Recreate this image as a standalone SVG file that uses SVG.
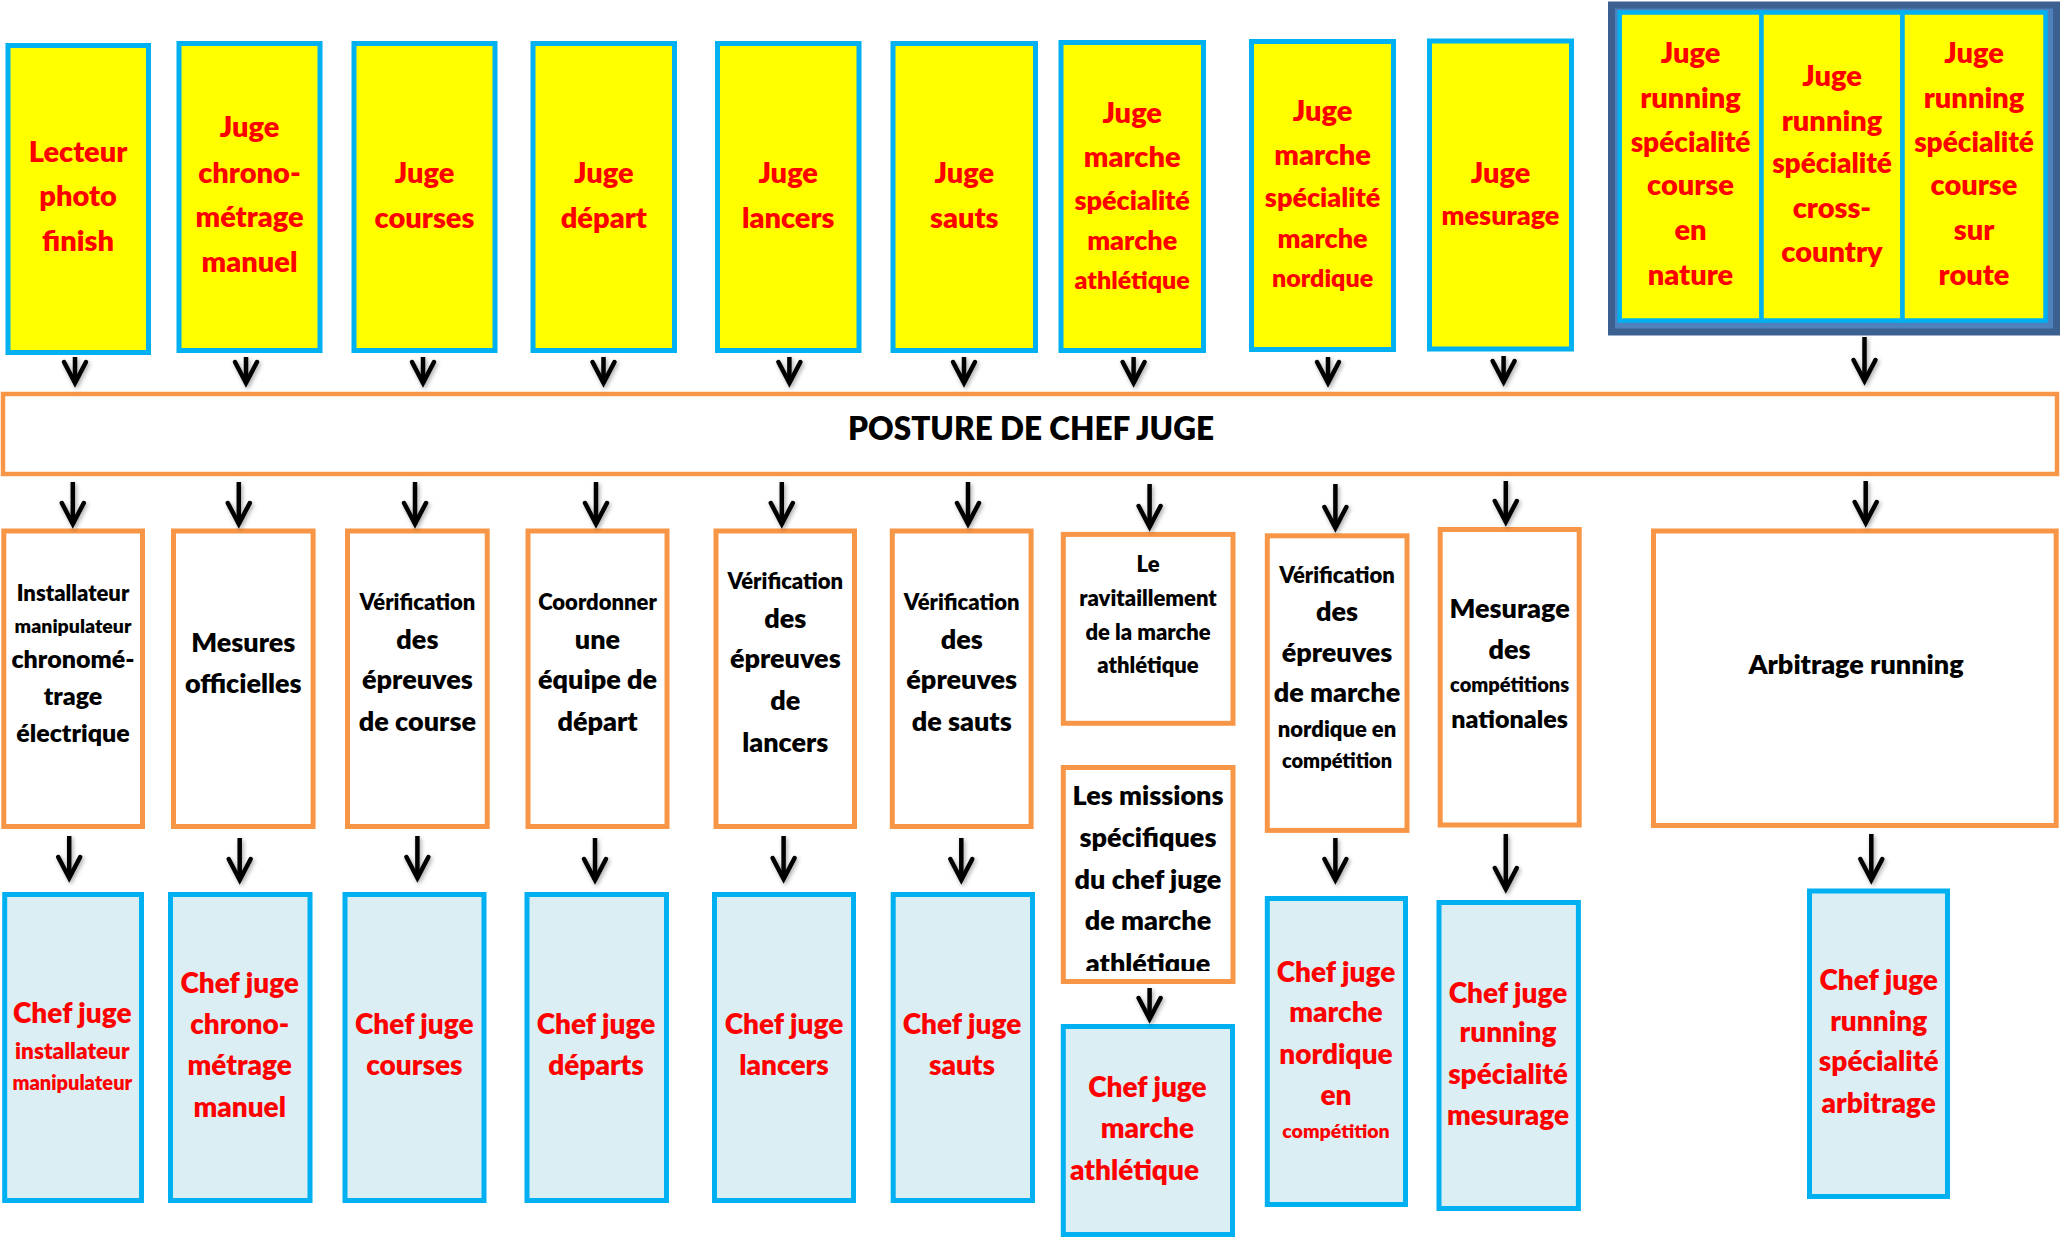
<svg xmlns="http://www.w3.org/2000/svg" width="2060" height="1237" viewBox="0 0 2060 1237">
<style>
text{font-family:Lato,"Open Sans","Liberation Sans",sans-serif;font-weight:800;text-anchor:middle}
.y{fill:#FFFF00;stroke:#00B0F0;stroke-width:5}
.o{fill:#FFFFFF;stroke:#F79646;stroke-width:5}
.b{fill:#DAEEF3;stroke:#00B0F0;stroke-width:5}
.r{fill:#FF0000}
.k{fill:#000000}
.s19{font-size:19.5px}.s20{font-size:20px}.s22{font-size:22px}.s23{font-size:22.5px}.s25{font-size:25px}
.s27{font-size:27px}.s28{font-size:28px}.s29{font-size:29px}.s30{font-size:31.5px}
.ar{fill:none;stroke:#000;stroke-width:4.5;marker-end:url(#ah)}
</style>
<defs>
<marker id="ah" markerUnits="userSpaceOnUse" viewBox="-30 -16 36 32" refX="0" refY="0" markerWidth="36" markerHeight="32" orient="auto" overflow="visible">
<path d="M-21,-11 L0,0 L-21,11" fill="none" stroke="#000" stroke-width="4.5" stroke-linejoin="miter" stroke-linecap="round"/>
</marker>
<filter id="sh" x="-50%" y="-50%" width="200%" height="200%">
<feDropShadow dx="1.5" dy="2" stdDeviation="2" flood-color="#000" flood-opacity="0.35"/>
</filter>
<clipPath id="clipM"><rect x="1060" y="760" width="180" height="211"/></clipPath>
</defs>

<!-- TOP ROW -->
<g id="top1"><rect class="y" x="8" y="45.5" width="140.5" height="307"/>
<text class="r s29" x="78" y="161.7">Lecteur</text><text class="r s29" x="78" y="206">photo</text><text class="r s29" x="78" y="251">finish</text></g>
<g id="top2"><rect class="y" x="179" y="43.5" width="141" height="307"/>
<text class="r s29" x="249.5" y="137">Juge</text><text class="r s29" x="249.5" y="182.7">chrono-</text><text class="r s29" x="249.5" y="226.7">métrage</text><text class="r s29" x="249.5" y="272">manuel</text></g>
<g id="top3"><rect class="y" x="354" y="43.5" width="141" height="307"/>
<text class="r s29" x="424.5" y="183">Juge</text><text class="r s29" x="424.5" y="227.7">courses</text></g>
<g id="top4"><rect class="y" x="533" y="43.5" width="141.5" height="307"/>
<text class="r s29" x="603.8" y="183">Juge</text><text class="r s29" x="603.8" y="227.7">départ</text></g>
<g id="top5"><rect class="y" x="717.5" y="43.5" width="141.5" height="307"/>
<text class="r s29" x="788.2" y="183">Juge</text><text class="r s29" x="788.2" y="227.7">lancers</text></g>
<g id="top6"><rect class="y" x="893" y="43.5" width="142.5" height="307"/>
<text class="r s29" x="964.3" y="183">Juge</text><text class="r s29" x="964.3" y="227.7">sauts</text></g>
<g id="top7"><rect class="y" x="1061" y="42.5" width="142.5" height="308"/>
<text class="r s29" x="1132.2" y="123.3">Juge</text><text class="r s29" x="1132.2" y="167.3">marche</text><text class="r s27" x="1132.2" y="210">spécialité</text><text class="r s27" x="1132.2" y="250">marche</text><text class="r s25" x="1132.2" y="289.3">athlétique</text></g>
<g id="top8"><rect class="y" x="1251.5" y="41.5" width="142" height="308"/>
<text class="r s29" x="1322.6" y="120.7">Juge</text><text class="r s29" x="1322.6" y="165">marche</text><text class="r s27" x="1322.6" y="206.7">spécialité</text><text class="r s27" x="1322.6" y="248.3">marche</text><text class="r s25" x="1322.6" y="286.7">nordique</text></g>
<g id="top9"><rect class="y" x="1429.5" y="41" width="142" height="308"/>
<text class="r s29" x="1500.5" y="182.7">Juge</text><text class="r s27" x="1500.5" y="225">mesurage</text></g>
<g id="running-group">
<rect x="1611.5" y="5" width="445" height="327" fill="#4F81BD" stroke="#3C6090" stroke-width="7"/>
<g id="run1"><rect class="y" x="1619.7" y="12.5" width="141.8" height="308" style="stroke-width:4.5"/>
<text class="r s29" x="1690.5" y="63.3">Juge</text><text class="r s29" x="1690.5" y="108.3">running</text><text class="r s28" x="1690.5" y="151.7">spécialité</text><text class="r s29" x="1690.5" y="195">course</text><text class="r s29" x="1690.5" y="240">en</text><text class="r s29" x="1690.5" y="285">nature</text></g>
<g id="run2"><rect class="y" x="1761.5" y="12.5" width="141" height="308" style="stroke-width:4.5"/>
<text class="r s29" x="1832" y="86">Juge</text><text class="r s29" x="1832" y="130.7">running</text><text class="r s28" x="1832" y="173.3">spécialité</text><text class="r s29" x="1832" y="218.3">cross-</text><text class="r s29" x="1832" y="261.7">country</text></g>
<g id="run3"><rect class="y" x="1902.5" y="12.5" width="143" height="308" style="stroke-width:4.5"/>
<text class="r s29" x="1974" y="63.3">Juge</text><text class="r s29" x="1974" y="108.3">running</text><text class="r s28" x="1974" y="151.7">spécialité</text><text class="r s29" x="1974" y="195">course</text><text class="r s29" x="1974" y="240">sur</text><text class="r s29" x="1974" y="285">route</text></g>
</g>

<!-- BAR -->
<g id="posture"><rect class="o" x="3" y="394" width="2054" height="80" style="stroke-width:4.5"/>
<text class="k s30" x="1031" y="440">POSTURE DE CHEF JUGE</text></g>

<!-- MIDDLE ROW -->
<g id="mid1"><rect class="o" x="3.8" y="531" width="138.7" height="295.5"/>
<text class="k s22" x="73" y="601.2">Installateur</text><text class="k s19" x="73" y="632.7">manipulateur</text><text class="k s25" x="73" y="668">chronomé-</text><text class="k s25" x="73" y="705.4">trage</text><text class="k s25" x="73" y="741.8">électrique</text></g>
<g id="mid2"><rect class="o" x="173.5" y="531" width="139.6" height="295.5"/>
<text class="k s27" x="243.3" y="652">Mesures</text><text class="k s27" x="243.3" y="693.3">officielles</text></g>
<g id="mid3"><rect class="o" x="347.5" y="531" width="139.7" height="295.5"/>
<text class="k s22" x="417.4" y="610">Vérification</text><text class="k s27" x="417.4" y="648.7">des</text><text class="k s27" x="417.4" y="689.4">épreuves</text><text class="k s27" x="417.4" y="731">de course</text></g>
<g id="mid4"><rect class="o" x="528" y="531" width="139" height="295.5"/>
<text class="k s22" x="597.5" y="610">Coordonner</text><text class="k s27" x="597.5" y="648.7">une</text><text class="k s27" x="597.5" y="689.4">équipe de</text><text class="k s27" x="597.5" y="731">départ</text></g>
<g id="mid5"><rect class="o" x="716" y="531" width="138.5" height="295.5"/>
<text class="k s22" x="785.3" y="589">Vérification</text><text class="k s27" x="785.3" y="627.8">des</text><text class="k s27" x="785.3" y="668">épreuves</text><text class="k s27" x="785.3" y="710">de</text><text class="k s27" x="785.3" y="751.5">lancers</text></g>
<g id="mid6"><rect class="o" x="892.3" y="531" width="138.8" height="295.5"/>
<text class="k s22" x="961.7" y="610">Vérification</text><text class="k s27" x="961.7" y="648.7">des</text><text class="k s27" x="961.7" y="689.4">épreuves</text><text class="k s27" x="961.7" y="731">de sauts</text></g>
<g id="mid7a"><rect class="o" x="1063.3" y="534.4" width="169.7" height="188.9"/>
<text class="k s22" x="1148" y="572">Le</text><text class="k s22" x="1148" y="606">ravitaillement</text><text class="k s22" x="1148" y="640">de la marche</text><text class="k s22" x="1148" y="673">athlétique</text></g>
<g id="mid7b"><rect class="o" x="1063.3" y="767.5" width="169.7" height="214"/>
<g clip-path="url(#clipM)"><text class="k s27" x="1148" y="804.8">Les missions</text><text class="k s27" x="1148" y="847">spécifiques</text><text class="k s27" x="1148" y="888.6">du chef juge</text><text class="k s27" x="1148" y="929.8">de marche</text><text class="k s27" x="1148" y="973">athlétique</text></g></g>
<g id="mid8"><rect class="o" x="1267.3" y="535.8" width="139.7" height="294.6"/>
<text class="k s22" x="1337" y="583">Vérification</text><text class="k s27" x="1337" y="621">des</text><text class="k s27" x="1337" y="662">épreuves</text><text class="k s27" x="1337" y="702">de marche</text><text class="k s22" x="1337" y="737">nordique en</text><text class="k s20" x="1337" y="768">compétition</text></g>
<g id="mid9"><rect class="o" x="1440.2" y="529.5" width="139" height="295.5"/>
<text class="k s27" x="1509.6" y="618">Mesurage</text><text class="k s27" x="1509.6" y="659.4">des</text><text class="k s20" x="1509.6" y="691.8">compétitions</text><text class="k s25" x="1509.6" y="728.2">nationales</text></g>
<g id="mid10"><rect class="o" x="1653.5" y="531" width="402.7" height="294.5"/>
<text class="k s27" x="1856" y="674">Arbitrage running</text></g>

<!-- BOTTOM ROW -->
<g id="bot1"><rect class="b" x="4.7" y="894.5" width="136.8" height="306"/>
<text class="r s28" x="72.3" y="1022.9">Chef juge</text><text class="r s23" x="72.3" y="1059.3">installateur</text><text class="r s20" x="72.3" y="1089.8">manipulateur</text></g>
<g id="bot2"><rect class="b" x="170.5" y="894.5" width="139.5" height="306"/>
<text class="r s28" x="239.7" y="992.9">Chef juge</text><text class="r s28" x="239.7" y="1034">chrono-</text><text class="r s28" x="239.7" y="1075">métrage</text><text class="r s28" x="239.7" y="1116.5">manuel</text></g>
<g id="bot3"><rect class="b" x="345" y="894.5" width="139" height="306"/>
<text class="r s28" x="414.3" y="1034">Chef juge</text><text class="r s28" x="414.3" y="1075">courses</text></g>
<g id="bot4"><rect class="b" x="527" y="894.5" width="139.5" height="306"/>
<text class="r s28" x="596" y="1034">Chef juge</text><text class="r s28" x="596" y="1075">départs</text></g>
<g id="bot5"><rect class="b" x="714.5" y="894.5" width="139" height="306"/>
<text class="r s28" x="784" y="1034">Chef juge</text><text class="r s28" x="784" y="1075">lancers</text></g>
<g id="bot6"><rect class="b" x="893.2" y="894.5" width="139.3" height="306"/>
<text class="r s28" x="962" y="1034">Chef juge</text><text class="r s28" x="962" y="1075">sauts</text></g>
<g id="bot7"><rect class="b" x="1063.3" y="1026.5" width="169.2" height="208"/>
<text class="r s28" x="1147.4" y="1096.6">Chef juge</text><text class="r s28" x="1147.4" y="1138.3">marche</text><text class="r s28" x="1134.5" y="1179.5">athlétique</text></g>
<g id="bot8"><rect class="b" x="1267.3" y="898.5" width="138.2" height="306"/>
<text class="r s28" x="1336" y="982">Chef juge</text><text class="r s28" x="1336" y="1022">marche</text><text class="r s28" x="1336" y="1064">nordique</text><text class="r s28" x="1336" y="1105">en</text><text class="r s19" x="1336" y="1138">compétition</text></g>
<g id="bot9"><rect class="b" x="1439" y="902.5" width="139.4" height="306"/>
<text class="r s28" x="1508" y="1002.5">Chef juge</text><text class="r s28" x="1508" y="1042.3">running</text><text class="r s28" x="1508" y="1083.5">spécialité</text><text class="r s28" x="1508" y="1124.7">mesurage</text></g>
<g id="bot10"><rect class="b" x="1809.5" y="891" width="138" height="305.5"/>
<text class="r s28" x="1878.7" y="990">Chef juge</text><text class="r s28" x="1878.7" y="1031">running</text><text class="r s28" x="1878.7" y="1071.4">spécialité</text><text class="r s28" x="1878.7" y="1112.6">arbitrage</text></g>

<!-- CONNECTORS -->
<g id="connectors" filter="url(#sh)">
<path class="ar" d="M75 357V383"/>
<path class="ar" d="M246 357V383"/>
<path class="ar" d="M423 357V383"/>
<path class="ar" d="M603.5 357V383"/>
<path class="ar" d="M789.4 357V383"/>
<path class="ar" d="M964 357V383"/>
<path class="ar" d="M1133.6 357V383"/>
<path class="ar" d="M1328 357V383"/>
<path class="ar" d="M1503.6 356V382"/>
<path class="ar" d="M1864.5 337V381"/>
<path class="ar" d="M72.8 482V524"/>
<path class="ar" d="M238.8 482V524"/>
<path class="ar" d="M415 482V524"/>
<path class="ar" d="M596 482V524"/>
<path class="ar" d="M781.8 482V524"/>
<path class="ar" d="M968 482V524"/>
<path class="ar" d="M1149.6 484V527"/>
<path class="ar" d="M1335.4 484V528"/>
<path class="ar" d="M1505.8 481V522"/>
<path class="ar" d="M1865.7 481V523"/>
<path class="ar" d="M69.2 836V878"/>
<path class="ar" d="M239.7 838V880"/>
<path class="ar" d="M417.4 836V878"/>
<path class="ar" d="M595 838V880"/>
<path class="ar" d="M783.6 836V879"/>
<path class="ar" d="M961.3 838V880"/>
<path class="ar" d="M1149.6 988V1019"/>
<path class="ar" d="M1335.4 838V880"/>
<path class="ar" d="M1505.8 834V889"/>
<path class="ar" d="M1871.3 834V880"/>
</g>
</svg>
